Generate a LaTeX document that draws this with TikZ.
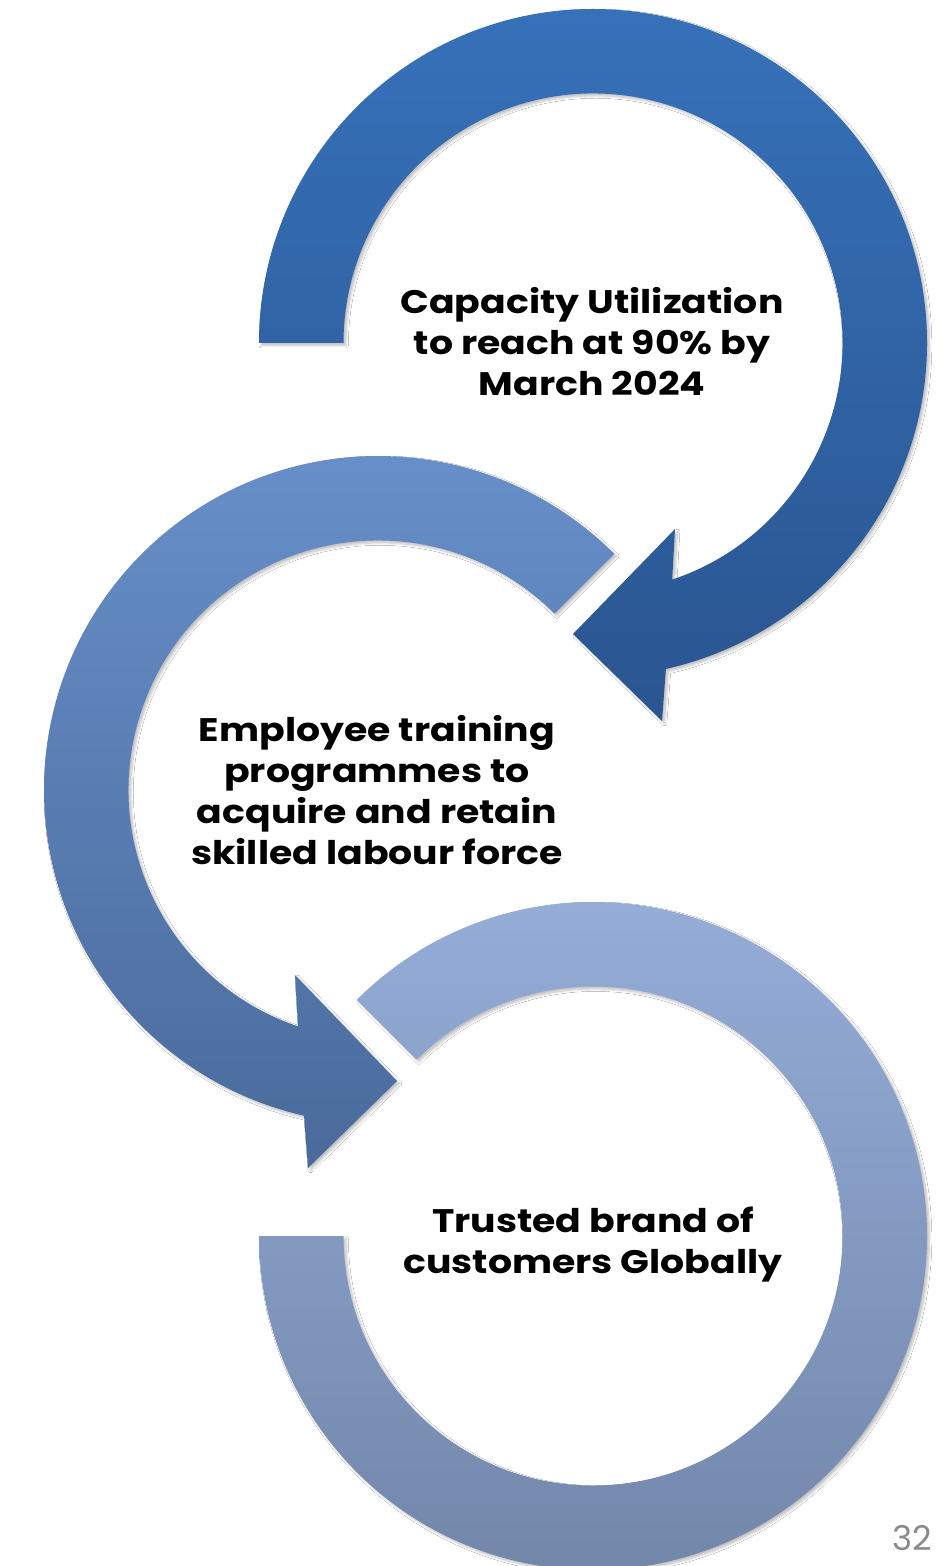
\documentclass[tikz,border=0pt]{standalone}
\usepackage{fontspec}
\newfontfamily\popfont{Poppins}
\newfontfamily\popwide{Poppins}[FakeStretch=1.16]
\usetikzlibrary{calc,shadows.blur}
\definecolor{aOneTop}{HTML}{3671B9}
\definecolor{aOneBot}{HTML}{2A5590}
\definecolor{aTwoTop}{HTML}{6890CA}
\definecolor{aTwoBot}{HTML}{4A6A9B}
\definecolor{aThrTop}{HTML}{96AED9}
\definecolor{aThrBot}{HTML}{7185A8}
\definecolor{pagegray}{HTML}{8A8A8A}
\tikzset{
  arrowshape/.style={blur shadow={shadow xshift=1.2pt, shadow yshift=-1.2pt, shadow blur radius=1.2pt, shadow blur steps=6, shadow opacity=25}},
  labeltext/.style={align=center, inner sep=0pt, font=\popwide\bfseries\fontsize{16.3}{20.5}\selectfont, text=black},
}
\begin{document}
\begin{tikzpicture}[x=0.5pt,y=0.5pt]
\clip (0,0) rectangle (950,-1566);
\fill[white] (0,0) rectangle (950,-1566);
\coordinate (c1) at (593,-343);
\coordinate (c2) at (378,-790);
\coordinate (c3) at (593,-1236);
% arrow 3
\path[arrowshape, top color=aThrTop, bottom color=aThrBot]
  (c3) ++(135:334) arc[start angle=135, end angle=-180, radius=334]
  -- ($(c3)+(180:249.5)$) arc[start angle=-180, end angle=135, radius=249.5] -- cycle;
% arrow 2
\path[arrowshape, top color=aTwoTop, bottom color=aTwoBot]
  (c2) ++(45:334) arc[start angle=45, end angle=257.2, radius=334]
  -- (308,-1168) -- (397,-1081) -- (295,-975)
  -- ($(c2)+(251.3:249.5)$) arc[start angle=251.3, end angle=45, radius=249.5] -- cycle;
% arrow 1
\path[arrowshape, top color=aOneTop, bottom color=aOneBot]
  (c1) ++(180:334) arc[start angle=180, end angle=-77.4, radius=334]
  -- (662,-721) -- (573,-634) -- (675,-529)
  -- ($(c1)+(-71.5:249.5)$) arc[start angle=-71.5, end angle=180, radius=249.5] -- cycle;
\node[labeltext] (t1) at (592,-342) {Capacity Utilization\\to reach at 90\% by\\March 2024};
\node[labeltext] (t2) at (377,-790) {Employee training\\programmes to\\acquire and retain\\skilled labour force};
\node[labeltext] (t3) at (593,-1245) {Trusted brand of\\customers Globally};
\node[font=\popfont\fontsize{17}{20}\selectfont, text=pagegray, inner sep=0pt] (pg) at (912,-1538) {32};
\end{tikzpicture}
\end{document}
